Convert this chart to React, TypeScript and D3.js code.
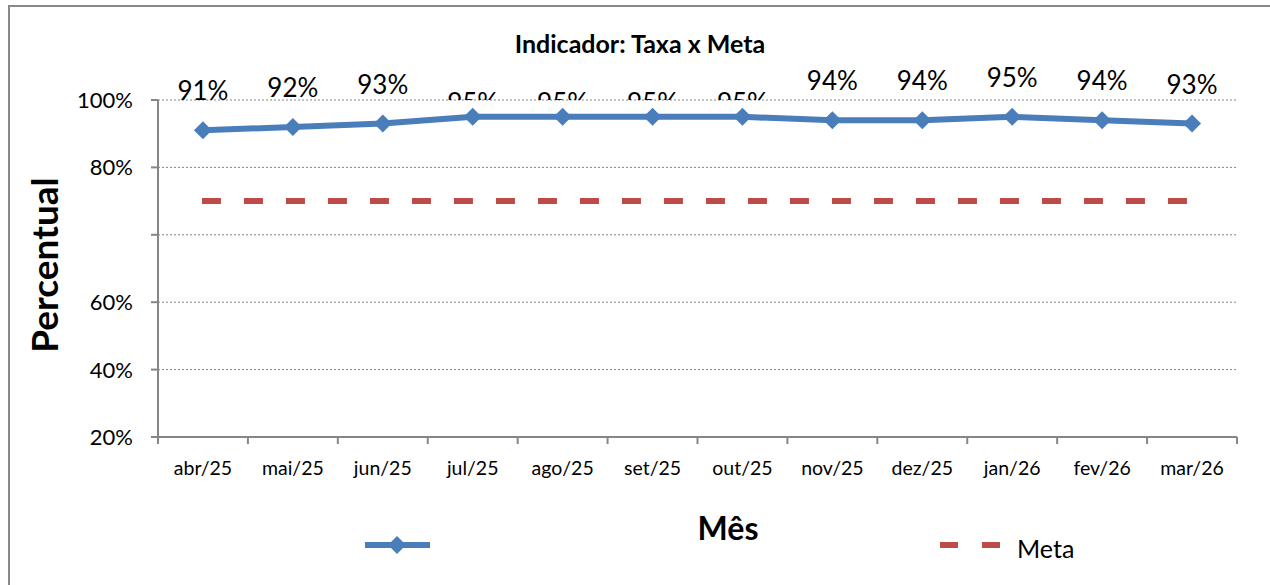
import React from 'react';
import * as d3 from 'd3';

// dados
const months = ['abr/25', 'mai/25', 'jun/25', 'jul/25', 'ago/25', 'set/25', 'out/25', 'nov/25', 'dez/25', 'jan/26', 'fev/26', 'mar/26'];
const taxa = [91, 92, 93, 95, 95, 95, 95, 94, 94, 95, 94, 93];
const meta = [70, 70, 70, 70, 70, 70, 70, 70, 70, 70, 70, 70];
const yTicks = [0, 20, 40, 60, 80, 100];
const yTickLabels = ['20%', '40%', '60%', '', '80%', '100%'];
// onde o Excel pôs o rótulo (alguns ficaram escondidos pela área de plotagem)
const labelPos = ['above', 'above', 'above', 'low', 'low', 'low', 'low', 'above', 'above', 'above', 'above', 'above'];

const W = 1270;
const H = 585;
const margin = { top: 100, right: 33, bottom: 148, left: 158 };
const FONT = 'Lato, "Open Sans", sans-serif';
const BLUE = '#4A7EBB';
const RED = '#BE4B48';
const GRAY = '#868686';

const diamond = (cx: number, cy: number, r: number) =>
  `M${cx},${cy - r}L${cx + r},${cy}L${cx},${cy + r}L${cx - r},${cy}Z`;

const App: React.FC = () => {
  const x = d3
    .scaleBand()
    .domain(months)
    .range([margin.left, W - margin.right]);
  const y = d3
    .scaleLinear()
    .domain([0, 100])
    .range([H - margin.bottom, margin.top]);
  const cx = (m: string) => x(m)! + x.bandwidth() / 2;

  const line = d3
    .line<number>()
    .x((_, i) => cx(months[i]))
    .y((d) => y(d));

  const plotBottom = y(0);
  const boundaries = months.map((m) => x(m)!).concat([W - margin.right]);

  return (
    <svg width={W} height={H} style={{ position: 'absolute', left: 0, top: 0 }}>
      <rect x={0} y={0} width={W} height={H} fill="#fff" />
      <rect x={9} y={6} width={W + 20} height={H + 20} fill="none" stroke="#888" strokeWidth={2} />
      <defs>
        <clipPath id="lblClip">
          <rect x={0} y={0} width={W} height={margin.top} />
        </clipPath>
      </defs>

      {/* title */}
      <text x={640} y={53} textAnchor="middle" fontFamily={FONT} fontWeight="bold" fontSize={25}>
        Indicador: Taxa x Meta
      </text>

      {/* grid */}
      {yTicks.slice(1).map((t) => (
        <line key={t} x1={margin.left} x2={W - margin.right} y1={y(t)} y2={y(t)}
          stroke={GRAY} strokeWidth={1} strokeDasharray="2,2" />
      ))}

      {/* y axis */}
      <line x1={margin.left} x2={margin.left} y1={margin.top} y2={plotBottom + 6} stroke={GRAY} strokeWidth={2} />
      {yTicks.map((t, i) => (
        <g key={t}>
          <line x1={margin.left - 7} x2={margin.left} y1={y(t)} y2={y(t)} stroke={GRAY} strokeWidth={2} />
          <text x={133} y={y(t) + 8} textAnchor="end" fontFamily={FONT} fontSize={22}>
            {yTickLabels[i]}
          </text>
        </g>
      ))}

      {/* x axis */}
      <line x1={margin.left - 7} x2={W - margin.right} y1={plotBottom} y2={plotBottom} stroke={GRAY} strokeWidth={2} />
      {boundaries.map((b, i) => (
        <line key={i} x1={b} x2={b} y1={plotBottom} y2={plotBottom + 7} stroke={GRAY} strokeWidth={2} />
      ))}
      {months.map((m) => (
        <text key={m} x={cx(m)} y={475} textAnchor="middle" fontFamily={FONT} fontSize={19.5}>
          {m}
        </text>
      ))}

      {/* axis titles */}
      <text transform={`translate(58,265) rotate(-90)`} textAnchor="middle" fontFamily={FONT}
        fontWeight="bold" fontSize={37}>
        Percentual
      </text>
      <text x={728} y={540} textAnchor="middle" fontFamily={FONT} fontWeight="bold" fontSize={32}>
        Mês
      </text>

      {/* meta */}
      <line x1={cx(months[0]) - 1} x2={cx(months[months.length - 1])} y1={y(meta[0])} y2={y(meta[meta.length - 1])}
        stroke={RED} strokeWidth={6} strokeDasharray="19,23" />

      {/* taxa */}
      <path d={line(taxa) || ''} fill="none" stroke={BLUE} strokeWidth={6} strokeLinejoin="round" />
      {taxa.map((v, i) => (
        <path key={i} d={diamond(cx(months[i]), y(v), 9)} fill={BLUE} />
      ))}

      {/* data labels */}
      <g clipPath="url(#lblClip)">
        {taxa.map((v, i) => (
          <text key={i} x={cx(months[i])} y={labelPos[i] === 'above' ? y(v) - 30 : y(v) - 5}
            textAnchor="middle" fontFamily={FONT} fontSize={26}>
            {v}%
          </text>
        ))}
      </g>

      {/* legend */}
      <line x1={365} x2={430} y1={545} y2={545} stroke={BLUE} strokeWidth={6} />
      <path d={diamond(397, 545, 9)} fill={BLUE} />
      <line x1={940} x2={1002} y1={545} y2={545} stroke={RED} strokeWidth={6} strokeDasharray="18,24" />
      <text x={1017} y={558} fontFamily={FONT} fontSize={25}>
        Meta
      </text>
    </svg>
  );
};

export default App;
